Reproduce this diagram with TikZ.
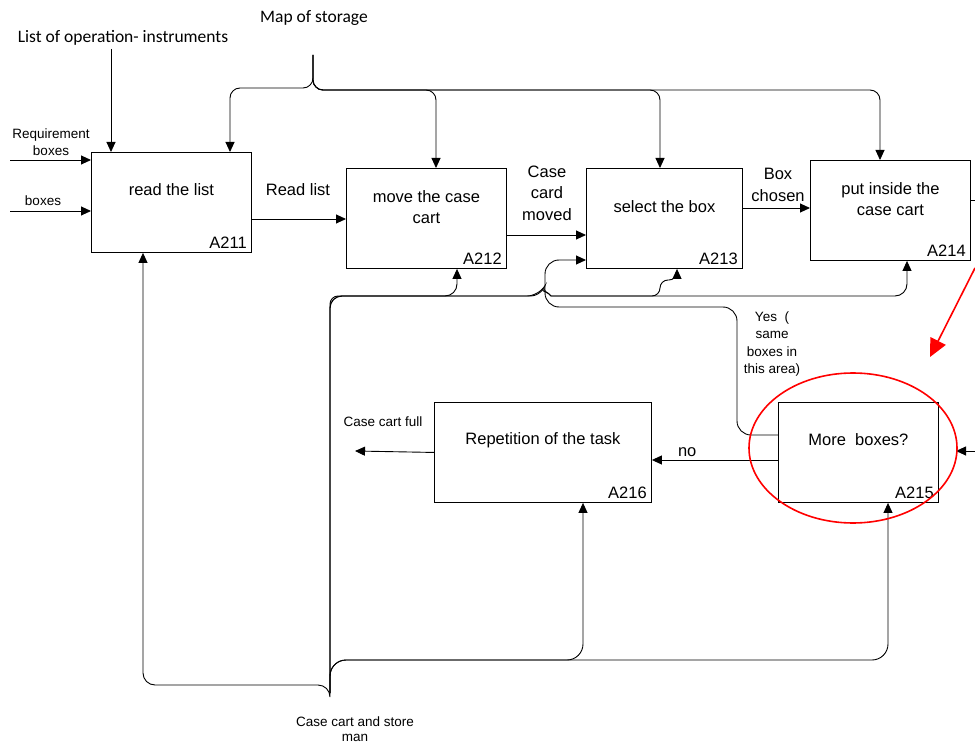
\documentclass[tikz,border=0pt]{standalone}
\usepackage{fontspec}
\setmainfont{Liberation Sans}
\newfontfamily\calibrifont{Carlito}
\usetikzlibrary{arrows.meta,calc}

\tikzset{
  activity/.style={draw, line width=0.9pt, minimum width=160pt, minimum height=100pt,
    anchor=north west, inner sep=0pt},
  boxtext/.style={align=center, font=\fontsize{16.5}{21.5}\selectfont},
  code/.style={anchor=south east, inner xsep=5pt, inner ysep=4pt,
    font=\fontsize{16.5}{20}\selectfont},
  flow/.style={line width=0.9pt, -{Triangle[length=10pt,width=9pt]}},
  wire/.style={line width=0.9pt},
  small/.style={align=center, font=\fontsize{13.5}{17.5}\selectfont},
  outside/.style={font=\calibrifont\fontsize{17.5}{20}\selectfont},
  mark red/.style={color=red, line width=1.6pt},
}

\begin{document}
\begin{tikzpicture}[x=1pt, y=-1pt]
  \useasboundingbox (0,0) rectangle (975,746);

  % activity boxes
  \node[activity] (a211) at (91,152) {};
  \node[activity] (a212) at (346,168) {};
  \node[activity, minimum width=156pt] (a213) at (586,168) {};
  \node[activity] (a214) at (810,160) {};
  \node[activity, minimum width=217pt] (a216) at (434,402) {};
  \node[activity] (a215) at (778,402) {};

  \node[boxtext] (t211) at ($(a211.north)+(0,38)$) {read the list};
  \node[boxtext] (t212) at ($(a212.north)+(0,39)$) {move the case\\cart};
  \node[boxtext] (t213) at ($(a213.north)+(0,39)$) {select the box};
  \node[boxtext] (t214) at ($(a214.north)+(0,39)$) {put inside the\\case cart};
  \node[boxtext] (t215) at ($(a215.north)+(0,38)$) {More~~boxes?};
  \node[boxtext] (t216) at ($(a216.north)+(0,38)$) {Repetition of the task};

  \node[code] (c211) at (a211.south east) {A211};
  \node[code] (c212) at (a212.south east) {A212};
  \node[code] (c213) at (a213.south east) {A213};
  \node[code] (c214) at (a214.south east) {A214};
  \node[code] (c215) at (a215.south east) {A215};
  \node[code] (c216) at (a216.south east) {A216};

  % controls from above
  \node[outside] (ops) at (123,38) {List of operation- instruments};
  \node[outside] (map) at (314,18) {Map of storage};
  \coordinate (mapin) at (313,55);
  \draw[flow] ([xshift=-12pt]ops.south) -- ($(a211.north west)+(20,0)$);
  \draw[flow, rounded corners=10pt] (mapin) |- (230,88) -- ($(a211.north west)+(139,0)$);
  \draw[flow, rounded corners=10pt] (mapin) |- (436,90) -- ($(a212.north west)+(90,0)$);
  \draw[flow, rounded corners=10pt] (mapin) |- (660,90) -- ($(a213.north west)+(74,0)$);
  \draw[flow, rounded corners=10pt] (mapin) |- (880,90) -- ($(a214.north west)+(70,0)$);

  % inputs
  \coordinate (reqin) at (10,160);
  \coordinate (boxin) at (10,211);
  \node[small] (req) at (51,142) {Requirement\\boxes};
  \node[small] (boxes) at (43,201) {boxes};
  \draw[flow] (reqin) -- ($(a211.north west)+(0,8)$);
  \draw[flow] (boxin) -- ($(a211.north west)+(0,59)$);

  % flow between activities
  \draw[flow] ($(a211.north east)+(0,67)$) -- ($(a212.north west)+(0,51)$);
  \node[boxtext] (readlist) at (298,190) {Read list};
  \draw[flow] ($(a212.north east)+(0,67)$) -- ($(a213.north west)+(0,67)$);
  \node[boxtext] (moved) at (547,193) {Case\\card\\moved};
  \draw[flow] ($(a213.north east)+(0,40)$) -- ($(a214.north west)+(0,48)$);
  \node[boxtext] (chosen) at (778,185) {Box\\chosen};
  \coordinate (out214) at (975,200);
  \draw[wire] ($(a214.north east)+(0,40)$) -- (out214);

  % decision
  \draw[flow, rounded corners=14pt] ($(a215.north west)+(0,33)$) -| (737,307) -| (545,260)
    -- ($(a213.north west)+(0,92)$);
  \node[small] (yes) at (772,344) {Yes~~(\\same\\boxes in\\this area)};
  \draw[flow] ($(a215.north west)+(0,58)$) -- ($(a216.north east)+(0,58)$)
    node[pos=0.72, above, boxtext] (no) {no};
  \coordinate (full) at (355,451);
  \draw[flow] (a216.west) -- (full);
  \node[small] (fulltext) at (383,422) {Case cart full};
  \coordinate (in215) at (975,451);
  \draw[flow] (in215) -- (956,451);

  % mechanism from below
  \coordinate (mech) at (330,693);
  \node[small, font=\fontsize{13.5}{15}\selectfont] (man) at (355,729) {Case cart and store\\man};
  \draw[flow, rounded corners=12pt] (mech) |- (457,296) -- ($(a212.south west)+(111,0)$);
  \draw[flow, rounded corners=8pt] (mech) |- (539,296)
    {[rounded corners=0pt] to[out=60,in=120] (551,296)} -| (660,280)
    -| ($(a213.south west)+(91,0)$);
  \draw[flow, rounded corners=12pt] (mech) |- (539,296)
    {[rounded corners=0pt] to[out=60,in=120] (551,296)}
    -| ($(a214.south west)+(97,0)$);
  \draw[flow, rounded corners=12pt] (mech) -- (330,685) -| ($(a211.south west)+(52,0)$);
  \draw[flow, rounded corners=16pt] (mech) |- (583,660) -- ($(a216.south west)+(149,0)$);
  \draw[flow, rounded corners=16pt] (mech) |- (888,660) -- ($(a215.south west)+(110,0)$);

  % red annotation
  \draw[mark red] (853,448) ellipse [x radius=104, y radius=75];
  \coordinate (redstart) at (975,268);
  \coordinate (redtip) at (930,357);
  \draw[mark red, -{Triangle[length=18pt,width=17pt,fill=red]}] (redstart) -- (redtip);
\end{tikzpicture}
\end{document}
